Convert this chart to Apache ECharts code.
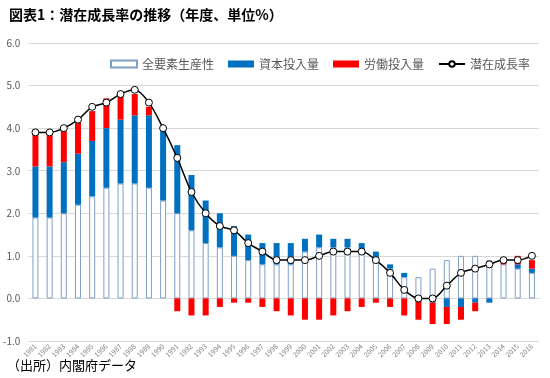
<!DOCTYPE html>
<html><head><meta charset="utf-8">
<script src="https://cdn.jsdelivr.net/npm/echarts@6/dist/echarts.min.js"></script>
<style>html,body{margin:0;padding:0;background:#fff}#c{width:550px;height:378px}</style>
</head><body><div id="c"></div>
<script>
var years = ['1981','1982','1983','1984','1985','1986','1987','1988','1989','1990','1991','1992','1993','1994','1995','1996','1997','1998','1999','2000','2001','2002','2003','2004','2005','2006','2007','2008','2009','2010','2011','2012','2013','2014','2015','2016'];
var tfp = [1.9,1.9,2.0,2.2,2.4,2.6,2.7,2.7,2.6,2.3, 2.0,1.6,1.3,1.2,1.0,0.9,0.8,0.8,0.8,1.1, 1.2,1.2,1.2,1.1,0.9,0.7,0.5,0.5,0.7,0.9, 1.0,1.0,0.9,0.8,0.7,0.6];
var capital = [1.2,1.2,1.2,1.2,1.3,1.4,1.5,1.6,1.7,1.7, 1.6,1.3,1.0,0.8,0.7,0.6,0.5,0.5,0.5,0.3, 0.3,0.2,0.2,0.2,0.2,0.1,0.1,0.0,-0.1,-0.2, -0.2,-0.1,-0.1,0.0,0.1,0.1];
var labor = [0.8,0.8,0.8,0.8,0.7,0.7,0.6,0.5,0.2,0.0, -0.3,-0.4,-0.4,-0.2,-0.1,-0.1,-0.2,-0.3,-0.4,-0.5, -0.5,-0.4,-0.3,-0.2,-0.1,-0.2,-0.4,-0.5,-0.5,-0.4, -0.3,-0.2,0.0,0.1,0.2,0.2];
var potential = [3.9,3.9,4.0,4.2,4.5,4.6,4.8,4.9,4.6,4.0, 3.3,2.5,2.0,1.7,1.6,1.3,1.1,0.9,0.9,0.9, 1.0,1.1,1.1,1.1,0.9,0.6,0.2,0.0,0.0,0.3, 0.6,0.7,0.8,0.9,0.9,1.0];
var seriesNames = ['全要素生産性','資本投入量','労働投入量','潜在成長率'];
var titleText = '図表1：潜在成長率の推移（年度、単位%）';
var sourceText = '（出所）内閣府データ';

var chart = echarts.init(document.getElementById('c'), null, {renderer:'canvas'});
var font = '"Noto Sans CJK JP", "Noto Sans", sans-serif';
chart.setOption({
  animation: false,
  textStyle: {fontFamily: font},
  title: [
    {text: titleText, left: 4, top: 3, textStyle: {fontSize: 14, fontWeight: 'bold', color: '#000', fontFamily: font}},
    {text: sourceText, left: 2, top: 354, textStyle: {fontSize: 13, fontWeight: 'normal', color: '#000', fontFamily: font}}
  ],
  legend: {
    left: 105, top: 53, width: 445, itemWidth: 26, itemHeight: 7, itemGap: 14,
    textStyle: {fontSize: 12, color: '#595959', fontFamily: font},
    data: [
      {name: seriesNames[0], icon: 'rect'},
      {name: seriesNames[1], icon: 'rect'},
      {name: seriesNames[2], icon: 'rect'},
      {name: seriesNames[3]}
    ]
  },
  grid: {left: 28, right: 11, top: 43, bottom: 37, containLabel: false},
  xAxis: {
    type: 'category', data: years,
    axisLine: {onZero: true, lineStyle: {color: '#D9D9D9'}},
    axisTick: {show: false},
    axisLabel: {rotate: 45, fontSize: 7, color: '#7f7f7f', interval: 0, margin: 4}
  },
  yAxis: {
    type: 'value', min: -1, max: 6, interval: 1,
    axisLabel: {formatter: function(v){return v.toFixed(1);}, fontSize: 10, color: '#595959', margin: 8},
    splitLine: {lineStyle: {color: '#D9D9D9'}},
    axisLine: {show: false}, axisTick: {show: false}
  },
  series: [
    {name: seriesNames[0], type: 'bar', stack: 'g', data: tfp, barWidth: 6,
     itemStyle: {color: '#ffffff', borderColor: '#7F9FC8', borderWidth: 1}},
    {name: seriesNames[1], type: 'bar', stack: 'g', data: capital, barWidth: 6,
     itemStyle: {color: '#0070C0'}},
    {name: seriesNames[2], type: 'bar', stack: 'g', data: labor, barWidth: 6,
     itemStyle: {color: '#FF0000'}},
    {name: seriesNames[3], type: 'line', data: potential, smooth: 0.3,
     symbol: 'circle', symbolSize: 7, showAllSymbol: true,
     lineStyle: {color: '#000', width: 1.5},
     itemStyle: {color: '#fff', borderColor: '#000', borderWidth: 1}, z: 5}
  ]
});
</script></body></html>
